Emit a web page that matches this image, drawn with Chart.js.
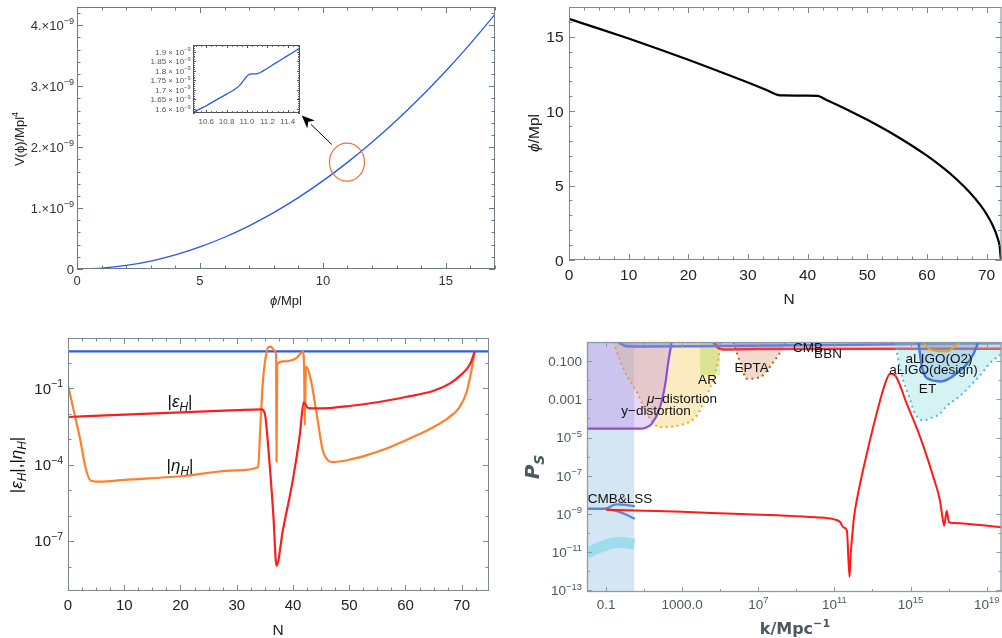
<!DOCTYPE html>
<html>
<head>
<meta charset="utf-8">
<script src="https://cdn.jsdelivr.net/npm/chart.js@4.4.1/dist/chart.umd.min.js"></script>
<style>
  html, body { margin: 0; padding: 0; background: #fff; overflow: hidden; width: 1002px; height: 638px; }
  canvas { position: absolute; }
</style>
</head>
<body>
<canvas id="c1" width="500" height="320" style="left:0;top:0;width:500px;height:320px"></canvas>
<canvas id="c1i" width="170" height="100" style="left:140px;top:38px;width:170px;height:100px"></canvas>
<canvas id="c2" width="540" height="320" style="left:500px;top:0;width:540px;height:320px"></canvas>
<canvas id="c3" width="500" height="318" style="left:0;top:320px;width:500px;height:318px"></canvas>
<canvas id="c4" width="540" height="318" style="left:500px;top:320px;width:540px;height:318px"></canvas>
<script>
// ---------- panel 1: potential V(phi), units of 1e-9 Mpl^4 ----------
const phiGrid   = [0, 1, 2, 3, 4, 5, 6, 7, 8, 9, 10, 11, 12, 13, 14, 15, 16, 17];
const potential = [0, 0.0145, 0.058, 0.130, 0.231, 0.362, 0.521, 0.709, 0.925, 1.171, 1.446, 1.75, 2.08, 2.44, 2.83, 3.25, 3.70, 4.18];

// inset: zoom on the plateau
const insetPhi       = [10.47, 10.6, 10.7, 10.8, 10.88, 10.93, 10.97, 11.0, 11.03, 11.07, 11.11, 11.15, 11.25, 11.35, 11.45, 11.52];
const insetPotential = [1.583, 1.617, 1.648, 1.678, 1.703, 1.725, 1.752, 1.772, 1.782, 1.784, 1.786, 1.797, 1.830, 1.863, 1.896, 1.919];

// ---------- panel 2: phi(N) ----------
const efoldN   = [0, 5, 10, 15, 20, 25, 30, 33, 35.1, 36, 38, 40, 41.7, 43, 45, 47, 50, 55, 60, 63, 65, 67, 69, 70, 71, 71.8, 72.2, 72.4];
const fieldPhi = [16.2, 15.55, 14.88, 14.18, 13.45, 12.7, 11.93, 11.44, 11.08, 11.06, 11.05, 11.05, 11.03, 10.79, 10.42, 10.03, 9.42, 8.30, 7.01, 6.10, 5.41, 4.62, 3.67, 3.08, 2.35, 1.54, 0.89, 0];

// ---------- panel 3: slow-roll parameters ----------
const epsN = [0, 10, 20, 30, 34.4, 35.0, 35.6, 36.5, 37.07, 38.2, 40.0, 41.2, 41.9, 42.7, 44, 46.5, 50, 55, 60, 65, 68, 70, 71.5, 72.3];
const epsH = [7.4e-3, 9.1e-3, 1.12e-2, 1.38e-2, 1.48e-2, 1.0e-2, 4.9e-4, 1.15e-6, 1.07e-8, 2.6e-7, 2.7e-5, 1.38e-3, 2.8e-2, 1.66e-2, 1.62e-2, 1.66e-2, 2.0e-2, 2.8e-2, 4.5e-2, 7.9e-2, 0.158, 0.355, 0.89, 2.7];
const etaN = [0, 1.0, 2.2, 3.1, 4.0, 5.7, 10, 20, 30, 33.8, 34.2, 34.6, 35.0, 35.6, 36.1, 36.6, 37.0, 37.07, 37.2, 38.3, 40.6, 41.5, 41.8, 42.0, 42.1, 42.3, 43.2, 44.2, 45.3, 46.2, 47, 50, 53, 57, 60, 62.5, 65, 67.5, 69.5, 70.8, 71.7, 72.3];
const etaH = [0.132, 1.35e-2, 8.9e-4, 7.9e-5, 2.4e-5, 2.14e-5, 2.5e-5, 3.5e-5, 6.0e-5, 7.9e-5, 3.2e-3, 0.126, 1.0, 4.0, 4.3, 3.1, 2.0, 1.32e-4, 0.89, 1.12, 1.51, 2.5, 2.8, 0.32, 3.5e-3, 0.71, 0.20, 1.0e-2, 3.6e-4, 1.48e-4, 1.26e-4, 1.55e-4, 2.3e-4, 4.6e-4, 8.9e-4, 1.58e-3, 3.0e-3, 6.6e-3, 1.66e-2, 6.3e-2, 0.45, 2.7];
const endN = [0, 75];
const endLevel = [2.8, 2.8];

// ---------- panel 4: power spectrum and constraints ----------
const kRed  = [0.1, 10, 1000, 4.9e5, 1e8, 1e10, 8.7e10, 2.0e11, 2.95e11, 4.5e11, 6.2e11, 7.2e11, 8.5e11, 1.07e12, 1.48e12, 5.0e12, 2.5e13, 4.5e13, 8.3e13, 1.55e14, 6.3e14, 3.2e15, 1.58e16, 3.5e16, 5.2e16, 5.9e16, 7.9e16, 1.05e17, 1.78e17, 8.9e17, 6.2e19];
const psRed = [1.66e-9, 1.48e-9, 1.32e-9, 1.02e-9, 8.5e-10, 6.8e-10, 5.4e-10, 3.8e-10, 2.0e-10, 1.38e-10, 5.0e-13, 8.3e-12, 6.2e-11, 6.9e-10, 5.1e-9, 1.41e-6, 8.7e-4, 6.3e-3, 2.2e-2, 1.78e-2, 5.9e-4, 1.05e-5, 8.5e-8, 5.1e-9, 3.8e-10, 2.5e-10, 1.45e-9, 3.8e-10, 3.4e-10, 3.1e-10, 2.0e-10];

const bandK = [0.01, 3.1];          const bandP = [1, 1];
const yDistK = [0.01, 6.2, 13, 25, 69, 126, 186, 282];
const yDistP = [2.9e-5, 2.9e-5, 3.4e-5, 5.2e-5, 3.9e-4, 5.4e-3, 8.9e-2, 1];
const muK = [0.24, 0.81, 4.1, 20, 69, 776, 5.9e3, 1.95e4, 5.4e4, 8.9e4, 9.8e4];
const muP = [1, 4.0e-2, 2.4e-3, 9.8e-5, 3.5e-5, 4.4e-5, 1.45e-4, 1.62e-3, 2.6e-2, 0.30, 1];
const arK = [8.7e3, 9.8e4];         const arP = [1.9e-2, 1.9e-2];
const eptaK = [4.9e5, 1.1e6, 2.5e6, 1.23e7, 6.2e7, 3.2e8];
const eptaP = [1, 8.9e-2, 1.2e-2, 1.45e-2, 8.9e-2, 1];
const cmbTopK = [0.41, 0.7, 1.12, 10, 1e4, 1e8, 1e12, 1e16, 6.2e19];
const cmbTopP = [1, 0.75, 0.6, 0.58, 0.6, 0.65, 0.72, 0.8, 0.85];
const bbnK = [4.4e4, 8e4, 1.45e5, 1e7, 6.2e19];
const bbnP = [1, 0.48, 0.41, 0.43, 0.45];
const etK = [1.55e14, 2.9e14, 9.5e14, 1.74e15, 4.7e15, 1.2e16, 3.5e16, 7.9e16, 3.2e17, 1.35e18, 4.5e18, 1.5e19, 5e19, 6.5e19];
const etP = [1, 3.5e-2, 9.5e-4, 1.78e-4, 7.9e-5, 1.07e-4, 1.78e-4, 4.5e-4, 1.26e-3, 5e-3, 1.78e-2, 7.9e-2, 0.21, 0.28];
const ligoK = [2.6e15, 3.9e15, 1.07e16, 4.4e16, 2.7e17, 1.35e18, 3.0e18, 3.5e18];
const ligoP = [1, 5.2e-2, 1.07e-2, 8.7e-3, 2.3e-2, 0.117, 0.59, 1];
const o2K = [4.7e15, 1.07e16, 7.9e16, 4.0e17];
const o2P = [1, 0.40, 0.32, 1];
const arcK = [0.01, 0.04, 0.2, 0.55, 1.5, 3.1];
const arcP = [9.1e-12, 1.7e-11, 2.9e-11, 3.2e-11, 3.0e-11, 2.6e-11];
const lssK = [0.01, 0.1];           const lssP = [1.9e-9, 1.9e-9];
const lssUpK = [0.1, 0.36, 3.3];    const lssUpP = [1.9e-9, 3.2e-9, 2.6e-9];
const lssLoK = [0.1, 0.55, 3.3];    const lssLoP = [1.9e-9, 1.26e-9, 5.6e-10];

// ---------- tick positions and labels ----------
function steps(a, b, s) { const r = []; for (let v = a; v <= b + 1e-9; v += s) r.push(+v.toFixed(6)); return r; }
const sup = e => '10^{' + e + '}';

const SANS = '"Liberation Sans", Arial, sans-serif';
const decor = {};

function parseRich(s) {
  const out = [];
  let it = false, mode = 0, buf = '';
  const flush = () => { if (buf) out.push({ t: buf, it, mode }); buf = ''; };
  for (let i = 0; i < s.length; i++) {
    const c = s[i];
    if (c === '*') { flush(); it = !it; }
    else if ((c === '^' || c === '_') && s[i + 1] === '{') { flush(); mode = c === '^' ? 1 : -1; i++; }
    else if (c === '}' && mode) { flush(); mode = 0; }
    else buf += c;
  }
  flush();
  return out;
}

function drawRich(ctx, str, x, y, o) {
  const segs = parseRich(str);
  const fam = o.family || SANS;
  const fontOf = sg => (sg.it ? 'italic ' : '') + (o.weight || 'normal') + ' ' + (sg.mode ? o.size * 0.7 : o.size) + 'px ' + fam;
  let w = 0;
  segs.forEach(sg => { ctx.font = fontOf(sg); sg.w = ctx.measureText(sg.t).width; w += sg.w; });
  ctx.save();
  ctx.translate(x, y);
  if (o.rot) ctx.rotate(o.rot);
  let cx = o.align === 'right' ? -w : o.align === 'left' ? 0 : -w / 2;
  ctx.fillStyle = o.color || '#111';
  ctx.textBaseline = 'alphabetic';
  const base = o.size * 0.36;
  segs.forEach(sg => {
    ctx.font = fontOf(sg);
    const dy = sg.mode === 1 ? -o.size * 0.42 : sg.mode === -1 ? o.size * 0.24 : 0;
    ctx.fillText(sg.t, cx, base + dy);
    cx += sg.w;
  });
  ctx.restore();
}

// frame, inward ticks, tick labels, titles
Chart.register({
  id: 'decor',
  afterDatasetsDraw(chart) {
    const d = decor[chart.canvas.id];
    if (!d) return;
    const ctx = chart.ctx, a = chart.chartArea;
    const sx = chart.scales.x, sy = chart.scales.y;
    ctx.save();
    ctx.strokeStyle = d.frame;
    ctx.lineWidth = 1;
    const seg = (x1, y1, x2, y2) => { ctx.beginPath(); ctx.moveTo(x1, y1); ctx.lineTo(x2, y2); ctx.stroke(); };
    const inX = v => v >= sx.min && v <= sx.max;
    const inY = v => v >= sy.min && v <= sy.max;
    const tX = (vals, len) => vals.filter(inX).forEach(v => {
      const p = Math.round(sx.getPixelForValue(v)) + 0.5;
      seg(p, a.bottom, p, a.bottom - len); seg(p, a.top, p, a.top + len);
    });
    const tY = (vals, len) => vals.filter(inY).forEach(v => {
      const p = Math.round(sy.getPixelForValue(v)) + 0.5;
      seg(a.left, p, a.left + len, p); seg(a.right, p, a.right - len, p);
    });
    tX(d.xMinor, d.minorLen); tX(d.xMajor, d.majorLen);
    tY(d.yMinor, d.minorLen); tY(d.yMajor, d.majorLen);
    ctx.lineWidth = d.frameW || 1;
    ctx.strokeRect(a.left + 0.5, a.top + 0.5, a.right - a.left - 1, a.bottom - a.top - 1);
    const f = { size: d.tickSize, family: d.family, color: d.tickColor };
    d.xMajor.forEach((v, i) => drawRich(ctx, d.xLabels[i], sx.getPixelForValue(v), a.bottom + d.xOff, f));
    d.yMajor.forEach((v, i) => drawRich(ctx, d.yLabels[i], a.left - d.yOff, sy.getPixelForValue(v), Object.assign({ align: 'right' }, f)));
    (d.texts || []).forEach(t => drawRich(ctx, t.s, t.x, t.y, Object.assign({ family: d.family }, t)));
    if (d.extra) d.extra(ctx, sx, sy);
    ctx.restore();
  }
});

const pts = (xs, ys) => xs.map((x, i) => ({ x, y: ys[i] }));
function series(xs, ys, color, width, extra) {
  return Object.assign({
    data: pts(xs, ys), borderColor: color, borderWidth: width, pointRadius: 0,
    fill: false, cubicInterpolationMode: 'monotone'
  }, extra || {});
}

function makeChart(id, box, sx, sy, datasets) {
  return new Chart(document.getElementById(id), {
    type: 'line',
    data: { datasets },
    options: {
      responsive: false, animation: false, events: [],
      layout: { padding: { left: box.L, top: box.T, right: box.W - box.R, bottom: box.H - box.B } },
      scales: {
        x: Object.assign({ type: 'linear', display: false }, sx),
        y: Object.assign({ type: 'linear', display: false }, sy)
      },
      plugins: { legend: { display: false }, tooltip: { enabled: false } }
    }
  });
}

// ---------- panel 1 ----------
const zoomMark = { x: 10.98, y: 1.754 };
const arrowFrom = [10.36, 2.044], arrowTo = [9.14, 2.52];
decor.c1 = {
  frame: '#6f7a80', tickColor: '#333', tickSize: 13, family: SANS, majorLen: 6, minorLen: 3.5,
  xMajor: [0, 5, 10, 15], xLabels: ['0', '5', '10', '15'], xMinor: steps(0, 17, 1),
  yMajor: [0, 1, 2, 3, 4], yLabels: ['0', '1.×10^{−9}', '2.×10^{−9}', '3.×10^{−9}', '4.×10^{−9}'], yMinor: steps(0, 4.2, 0.2),
  xOff: 11, yOff: 3,
  texts: [
    { s: 'V(ϕ)/Mpl^{4}', x: 19, y: 139, size: 13, rot: -Math.PI / 2, color: '#222' },
    { s: '*ϕ*/Mpl', x: 286, y: 300, size: 13, color: '#222' }
  ],
  extra(ctx, sx, sy) {
    const cx = sx.getPixelForValue(zoomMark.x), cy = sy.getPixelForValue(zoomMark.y);
    ctx.strokeStyle = '#f3703a'; ctx.lineWidth = 1.2;
    ctx.beginPath(); ctx.ellipse(cx, cy, 17.5, 19, 0, 0, Math.PI * 2); ctx.stroke();
    const x1 = sx.getPixelForValue(arrowFrom[0]), y1 = sy.getPixelForValue(arrowFrom[1]);
    const x2 = sx.getPixelForValue(arrowTo[0]), y2 = sy.getPixelForValue(arrowTo[1]);
    const ang = Math.atan2(y2 - y1, x2 - x1), hl = 13, hw = 5.5;
    const bx = x2 - hl * Math.cos(ang), by = y2 - hl * Math.sin(ang);
    ctx.strokeStyle = '#000'; ctx.lineWidth = 1;
    ctx.beginPath(); ctx.moveTo(x1, y1); ctx.lineTo(bx, by); ctx.stroke();
    ctx.fillStyle = '#000';
    ctx.beginPath();
    ctx.moveTo(x2, y2);
    ctx.lineTo(bx + hw * Math.sin(ang), by - hw * Math.cos(ang));
    ctx.lineTo(x2 - 0.7 * hl * Math.cos(ang), y2 - 0.7 * hl * Math.sin(ang));
    ctx.lineTo(bx - hw * Math.sin(ang), by + hw * Math.cos(ang));
    ctx.closePath(); ctx.fill();
  }
};
makeChart('c1', { W: 500, H: 320, L: 77, T: 7, R: 495, B: 269 },
  { min: 0, max: 17 }, { min: 0, max: 4.3 },
  [series(phiGrid, potential, '#2a56ec', 1.3)]);

decor.c1i = {
  frame: '#4a5458', tickColor: '#555', tickSize: 8, family: SANS, majorLen: 3, minorLen: 1.8,
  xMajor: [10.6, 10.8, 11.0, 11.2, 11.4], xLabels: ['10.6', '10.8', '11.0', '11.2', '11.4'], xMinor: steps(10.5, 11.5, 0.05),
  yMajor: [1.6, 1.65, 1.7, 1.75, 1.8, 1.85, 1.9],
  yLabels: ['1.6 × 10^{−9}', '1.65 × 10^{−9}', '1.7 × 10^{−9}', '1.75 × 10^{−9}', '1.8 × 10^{−9}', '1.85 × 10^{−9}', '1.9 × 10^{−9}'],
  yMinor: steps(1.58, 1.93, 0.01),
  xOff: 8, yOff: 2.5
};
makeChart('c1i', { W: 170, H: 100, L: 53, T: 7, R: 160, B: 75 },
  { min: 10.47, max: 11.52 }, { min: 1.579, max: 1.935 },
  [series(insetPhi, insetPotential, '#2a56ec', 1.3)]);

// ---------- panel 2 ----------
decor.c2 = {
  frame: '#7d878c', tickColor: '#222', tickSize: 15.5, family: SANS, majorLen: 6, minorLen: 3.5,
  xMajor: [0, 10, 20, 30, 40, 50, 60, 70], xLabels: ['0', '10', '20', '30', '40', '50', '60', '70'], xMinor: steps(0, 72.5, 2.5),
  yMajor: [0, 5, 10, 15], yLabels: ['0', '5', '10', '15'], yMinor: steps(0, 17, 1),
  xOff: 14.5, yOff: 5.5,
  texts: [
    { s: '*ϕ*/Mpl', x: 33, y: 133, size: 15.5, rot: -Math.PI / 2, color: '#222' },
    { s: 'N', x: 289, y: 298, size: 15.5, color: '#222' }
  ]
};
makeChart('c2', { W: 540, H: 320, L: 69, T: 7, R: 501.5, B: 260 },
  { min: 0, max: 72.5 }, { min: 0, max: 17 },
  [series(efoldN, fieldPhi, '#000', 2.2)]);

// ---------- panel 3 ----------
decor.c3 = {
  frame: '#7d878c', tickColor: '#222', tickSize: 15, family: SANS, majorLen: 6, minorLen: 3.5,
  xMajor: [0, 10, 20, 30, 40, 50, 60, 70], xLabels: ['0', '10', '20', '30', '40', '50', '60', '70'], xMinor: steps(0, 75, 2.5),
  yMajor: [1e-1, 1e-4, 1e-7], yLabels: [sup('−1'), sup('−4'), sup('−7')],
  yMinor: [1, 1e-2, 1e-3, 1e-5, 1e-6, 1e-8],
  xOff: 14, yOff: 5,
  texts: [
    { s: '|*ε*_{*H*}|,|*η*_{*H*}|', x: 16, y: 145, size: 17, rot: -Math.PI / 2, color: '#111' },
    { s: 'N', x: 278, y: 309, size: 15.5, color: '#222' },
    { s: '|*ε*_{*H*}|', x: 180, y: 81, size: 17, color: '#111' },
    { s: '|*η*_{*H*}|', x: 180, y: 145, size: 17, color: '#111' }
  ]
};
makeChart('c3', { W: 500, H: 318, L: 68, T: 18, R: 489, B: 271 },
  { min: 0, max: 74.85 }, { type: 'logarithmic', min: 1.1e-9, max: 9.3 },
  [
    series(endN, endLevel, '#2b5cf0', 2.2, { order: 3 }),
    series(etaN, etaH, '#ff7f2a', 2.2, { order: 2 }),
    series(epsN, epsH, '#fa1e1e', 2.2, { order: 1 })
  ]);

// ---------- panel 4 ----------
decor.c4 = {
  frame: '#8d9ba3', frameW: 1.3, tickColor: '#4a5a60', tickSize: 13.5, family: SANS, majorLen: 5, minorLen: 3,
  xMajor: [1e-1, 1e3, 1e7, 1e11, 1e15, 1e19], xLabels: ['0.1', '1000.0', sup('7'), sup('11'), sup('15'), sup('19')],
  xMinor: [1e1, 1e5, 1e9, 1e13, 1e17],
  yMajor: [1e-1, 1e-3, 1e-5, 1e-7, 1e-9, 1e-11, 1e-13],
  yLabels: ['0.100', '0.001', sup('−5'), sup('−7'), sup('−9'), sup('−11'), sup('−13')],
  yMinor: [1e-2, 1e-4, 1e-6, 1e-8, 1e-10, 1e-12],
  xOff: 12, yOff: 5,
  texts: [
    { s: '*P*_{*S*}', x: 32, y: 147, size: 20, rot: -Math.PI / 2, color: '#4a5a60', weight: 'bold', family: '"DejaVu Sans", sans-serif' },
    { s: 'k/Mpc^{−1}', x: 295, y: 308, size: 16, color: '#4a5a60', weight: 'bold', family: '"DejaVu Sans", sans-serif' },
    { s: 'CMB', x: 308, y: 27, size: 13.5 },
    { s: 'BBN', x: 328, y: 33, size: 13.5 },
    { s: 'aLIGO(O2)', x: 439, y: 38.5, size: 13.5 },
    { s: 'aLIGO(design)', x: 433.5, y: 49.5, size: 13.5 },
    { s: 'ET', x: 427.5, y: 68, size: 13.5 },
    { s: 'EPTA', x: 251.7, y: 47.5, size: 13.5 },
    { s: 'AR', x: 207.5, y: 59.5, size: 13.5 },
    { s: '*μ*−distortion', x: 182, y: 78, size: 13.5 },
    { s: 'y−distortion', x: 156, y: 90, size: 13.5 },
    { s: 'CMB&LSS', x: 120, y: 178, size: 13.5 }
  ]
};
const dots = [2, 3.5];
makeChart('c4', { W: 540, H: 318, L: 87, T: 22, R: 501.5, B: 272 },
  { type: 'logarithmic', min: 1e-2, max: 6.0e19 }, { type: 'logarithmic', min: 8.3e-14, max: 1 },
  [
    series(bandK, bandP, 'rgba(0,0,0,0)', 0, { fill: 'start', backgroundColor: 'rgba(147,192,227,0.4)', order: 20 }),
    series(muK, muP, '#f5a623', 2, { fill: 'end', backgroundColor: 'rgba(240,200,80,0.36)', borderDash: dots, order: 19 }),
    series(yDistK, yDistP, '#8a4ee0', 2.2, { fill: 'end', backgroundColor: 'rgba(178,118,225,0.3)', order: 18 }),
    series(arK, arP, 'rgba(0,0,0,0)', 0, { fill: 'end', backgroundColor: 'rgba(160,210,60,0.32)', order: 17 }),
    series(eptaK, eptaP, '#b8661e', 2, { fill: 'end', backgroundColor: 'rgba(200,120,80,0.28)', borderDash: dots, order: 16 }),
    series(bbnK, bbnP, '#e83a3a', 2.5, { fill: 'end', backgroundColor: 'rgba(240,90,110,0.25)', order: 15 }),
    series(cmbTopK, cmbTopP, '#6c7ce2', 2.5, { fill: 'end', backgroundColor: 'rgba(110,120,220,0.3)', order: 14 }),
    series(etK, etP, '#5ab4e6', 2, { fill: 'end', backgroundColor: 'rgba(120,215,220,0.3)', borderDash: dots, order: 13 }),
    series(ligoK, ligoP, '#4a7ad8', 2.5, { fill: 'end', backgroundColor: 'rgba(90,150,215,0.28)', order: 12 }),
    series(o2K, o2P, '#e8a030', 2, { fill: 'end', backgroundColor: 'rgba(150,150,150,0.25)', order: 11 }),
    series(arcK, arcP, 'rgba(120,215,232,0.6)', 11, { order: 10, borderCapStyle: 'butt' }),
    series(lssK, lssP, '#5a88d8', 2.5, { order: 9 }),
    series(lssUpK, lssUpP, '#5a88d8', 2.2, { order: 8 }),
    series(lssLoK, lssLoP, '#5a88d8', 2.2, { order: 7 }),
    series(kRed, psRed, '#ff1a1a', 2, { order: 1 })
  ]);
</script>
</body>
</html>
